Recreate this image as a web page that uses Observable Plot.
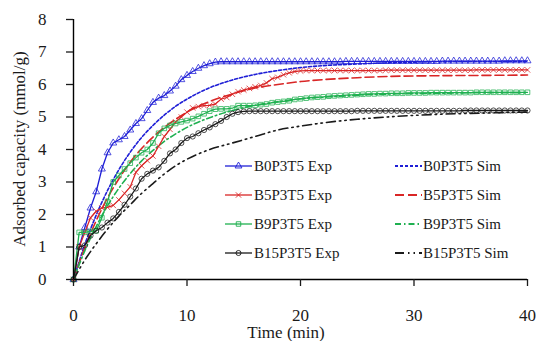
<!DOCTYPE html>
<html>
<head>
<meta charset="utf-8">
<script src="https://cdn.jsdelivr.net/npm/d3@7"></script>
<script src="https://cdn.jsdelivr.net/npm/@observablehq/plot@0.6"></script>
<style>
  html, body { margin: 0; padding: 0; background: #fff; }
  #wrap { position: relative; width: 537px; height: 341px; font-family: 'Liberation Serif', Tinos, 'Times New Roman', 'DejaVu Serif', serif; color: #1a1a1a; font-weight: normal; }
  .lg { position: absolute; font-size: 15px; line-height: 18px; white-space: nowrap; }
  .sw { position: absolute; }
  .title { position: absolute; font-size: 17px; white-space: nowrap; }
  svg text { font-family: 'Liberation Serif', Tinos, 'Times New Roman', 'DejaVu Serif', serif; }
</style>
</head>
<body>
<div id="wrap"></div>
<script>
// ---- data ----
const expTimes = [0,0.5,1,1.5,2,2.5,3,3.5,4,4.5,5,5.5,6,6.5,7,7.5,8,8.5,9,9.5,10,10.5,11,11.5,12,12.5,13,13.5,14,14.5,15,15.5,16,16.5,17,17.5,18,18.5,19,19.5,20,20.5,21,21.5,22,22.5,23,23.5,24,24.5,25,25.5,26,26.5,27,27.5,28,28.5,29,29.5,30,30.5,31,31.5,32,32.5,33,33.5,34,34.5,35,35.5,36,36.5,37,37.5,38,38.5,39,39.5,40];

const b0Exp = [0,1.0,1.6,2.2,2.7,3.4,3.9,4.2,4.3,4.4,4.6,4.8,4.95,5.2,5.45,5.58,5.66,5.8,5.95,6.15,6.28,6.4,6.5,6.58,6.64,6.69,6.7,6.7,6.7,6.7,6.7,6.7,6.7,6.7,6.7,6.7,6.7,6.7,6.7,6.7,6.7,6.7,6.7,6.7,6.7,6.7,6.7,6.7,6.71,6.71,6.71,6.71,6.71,6.71,6.71,6.71,6.71,6.71,6.71,6.71,6.71,6.71,6.71,6.71,6.71,6.72,6.72,6.72,6.72,6.72,6.72,6.72,6.72,6.72,6.72,6.72,6.73,6.73,6.73,6.73,6.73];

const b5Exp = [0,1.0,1.45,1.9,2.1,2.2,2.22,2.28,2.45,2.65,2.85,3.3,3.5,3.66,3.8,4.1,4.4,4.62,4.85,5.0,5.15,5.28,5.32,5.35,5.36,5.4,5.55,5.6,5.7,5.78,5.83,5.88,5.93,5.97,6.05,6.18,6.22,6.3,6.36,6.4,6.42,6.43,6.43,6.43,6.43,6.43,6.43,6.43,6.43,6.43,6.43,6.43,6.43,6.43,6.43,6.44,6.44,6.44,6.44,6.44,6.44,6.44,6.44,6.44,6.44,6.44,6.44,6.44,6.44,6.44,6.44,6.45,6.45,6.45,6.45,6.45,6.45,6.45,6.45,6.45,6.45];

const b9Exp = [0,1.45,1.45,1.48,1.5,1.9,2.4,3.0,3.2,3.4,3.58,3.75,3.9,4.0,4.2,4.5,4.65,4.74,4.8,4.85,4.89,4.95,5.02,5.1,5.18,5.24,5.25,5.25,5.27,5.35,5.35,5.35,5.36,5.38,5.4,5.44,5.46,5.48,5.5,5.54,5.56,5.58,5.6,5.61,5.62,5.64,5.65,5.66,5.67,5.68,5.69,5.7,5.71,5.71,5.72,5.72,5.73,5.73,5.73,5.74,5.74,5.74,5.74,5.75,5.75,5.75,5.75,5.75,5.75,5.75,5.75,5.76,5.76,5.76,5.76,5.76,5.76,5.76,5.76,5.76,5.76];

const b15Exp = [0,1.0,1.05,1.35,1.5,1.6,1.75,1.88,2.08,2.3,2.55,2.8,3.1,3.25,3.35,3.45,3.65,3.88,4.0,4.2,4.35,4.4,4.5,4.6,4.68,4.78,4.88,5.0,5.1,5.15,5.17,5.18,5.18,5.18,5.18,5.18,5.18,5.18,5.18,5.18,5.18,5.18,5.18,5.18,5.18,5.18,5.18,5.18,5.18,5.18,5.19,5.19,5.19,5.19,5.19,5.19,5.19,5.19,5.19,5.19,5.19,5.19,5.19,5.19,5.19,5.19,5.19,5.19,5.19,5.2,5.2,5.2,5.2,5.2,5.2,5.2,5.2,5.2,5.2,5.2,5.2];

const simTimes = [0,1,2,3,4,5,6,7,8,9,10,12,14,16,18,20,22,25,28,32,36,40];
const b0Sim  = [0,1.08,1.98,2.74,3.38,3.92,4.37,4.74,5.06,5.33,5.55,5.9,6.14,6.31,6.43,6.52,6.58,6.63,6.67,6.7,6.71,6.71];
const b5Sim  = [0,0.98,1.81,2.51,3.1,3.61,4.03,4.38,4.68,4.93,5.15,5.48,5.71,5.89,6.0,6.09,6.15,6.21,6.25,6.27,6.28,6.29];
const b9Sim  = [0,0.89,1.63,2.27,2.81,3.26,3.65,3.97,4.25,4.48,4.68,4.98,5.2,5.36,5.47,5.56,5.61,5.67,5.71,5.73,5.75,5.75];
const b15Sim = [0,0.6,1.1,1.55,1.95,2.3,2.65,2.95,3.25,3.5,3.7,4.0,4.2,4.4,4.6,4.72,4.82,4.93,5.01,5.08,5.12,5.15];

const expNames = ["B0P3T5 Exp","B5P3T5 Exp","B9P3T5 Exp","B15P3T5 Exp"];
const simNames = ["B0P3T5 Sim","B5P3T5 Sim","B9P3T5 Sim","B15P3T5 Sim"];
const xTicks = [0,10,20,30,40];
const yTicks = [0,1,2,3,4,5,6,7,8];
const xTitle = "Time (min)";
const yTitle = "Adsorbed capacity (mmol/g)";

// ---- styles ----
const FONT = "'Liberation Serif', Tinos, 'Times New Roman', 'DejaVu Serif', serif";
const colors = ["#1f1fd6","#d92626","#1fb050","#1a1a1a"];
const symbols = ["triangle","times","square","circle"];
const d3symbols = [d3.symbolTriangle, d3.symbolTimes, d3.symbolSquare, d3.symbolCircle];
const dashes = ["3,2","9,4","6,3,1.5,3","9,4,1.5,4,1.5,4"];

const expSets = [b0Exp,b5Exp,b9Exp,b15Exp];
const simSets = [b0Sim,b5Sim,b9Sim,b15Sim];

const expRows = expSets.flatMap((vals, i) => vals.map((v, j) => ({t: expTimes[j], v, s: i})));
const simRows = simSets.flatMap((vals, i) => vals.map((v, j) => ({t: simTimes[j], v, s: i})));

const marks = [];
for (let i = 0; i < 4; i++) {
  const sim = simRows.filter(d => d.s === i);
  marks.push(Plot.line(sim, {x: "t", y: "v", stroke: colors[i], strokeWidth: 1.6, strokeDasharray: dashes[i], curve: "monotone-x"}));
}
for (let i = 0; i < 4; i++) {
  const ex = expRows.filter(d => d.s === i);
  marks.push(Plot.line(ex, {x: "t", y: "v", stroke: colors[i], strokeWidth: 1.3}));
  marks.push(Plot.dot(ex, {x: "t", y: "v", stroke: colors[i], symbol: symbols[i], r: 2.6, strokeWidth: 0.9, fill: "none", strokeOpacity: 0.85}));
}
marks.push(Plot.ruleY([0], {stroke: "#000", strokeWidth: 1.6}));
marks.push(Plot.ruleX([0], {stroke: "#000", strokeWidth: 1.4}));
marks.push(Plot.axisX({ticks: xTicks, tickSize: 7, tickPadding: 22, label: null, fontSize: 17, strokeWidth: 1.3, fontFamily: FONT}));
marks.push(Plot.axisY({ticks: yTicks, tickSize: 7, tickPadding: 20, label: null, fontSize: 17, strokeWidth: 1.3, fontFamily: FONT}));

const chart = Plot.plot({
  width: 537,
  height: 341,
  marginLeft: 73,
  marginRight: 10,
  marginTop: 19,
  marginBottom: 62,
  style: {fontFamily: FONT, fontSize: "17px", background: "#fff", color: "#1a1a1a"},
  x: {domain: [0, 40]},
  y: {domain: [0, 8]},
  marks
});

const wrap = document.getElementById("wrap");
wrap.appendChild(chart);

// ---- legend & titles (HTML overlay) ----
const rowY = [166, 195, 224, 253];
const ns = "http://www.w3.org/2000/svg";
function swatch(x, y, i, isExp) {
  const s = document.createElementNS(ns, "svg");
  s.setAttribute("width", 27); s.setAttribute("height", 10);
  s.setAttribute("class", "sw");
  s.style.left = x + "px"; s.style.top = (y - 5) + "px";
  const l = document.createElementNS(ns, "line");
  l.setAttribute("x1", 0); l.setAttribute("x2", 27); l.setAttribute("y1", 5); l.setAttribute("y2", 5);
  l.setAttribute("stroke", colors[i]);
  l.setAttribute("stroke-width", isExp ? 1.3 : 1.8);
  if (!isExp) l.setAttribute("stroke-dasharray", dashes[i]);
  s.appendChild(l);
  if (isExp) {
    const p = document.createElementNS(ns, "path");
    p.setAttribute("transform", "translate(13.5,5)");
    p.setAttribute("d", d3.symbol(d3symbols[i], 20)());
    p.setAttribute("fill", "none"); p.setAttribute("stroke", colors[i]); p.setAttribute("stroke-width", 0.9);
    s.appendChild(p);
  }
  wrap.appendChild(s);
}
function label(x, y, txt) {
  const d = document.createElement("div");
  d.className = "lg"; d.textContent = txt;
  d.style.left = x + "px"; d.style.top = (y - 9) + "px";
  wrap.appendChild(d);
}
for (let i = 0; i < 4; i++) {
  swatch(225, rowY[i], i, true);
  label(254, rowY[i], expNames[i]);
  swatch(395, rowY[i], i, false);
  label(423, rowY[i], simNames[i]);
}
const xt = document.createElement("div");
xt.className = "title"; xt.textContent = xTitle;
xt.style.left = "286px"; xt.style.top = "333px"; xt.style.transform = "translate(-50%,-50%)";
wrap.appendChild(xt);
const yt = document.createElement("div");
yt.className = "title"; yt.textContent = yTitle;
yt.style.left = "20px"; yt.style.top = "149px"; yt.style.transform = "translate(-50%,-50%) rotate(-90deg)";
wrap.appendChild(yt);
</script>
</body>
</html>
